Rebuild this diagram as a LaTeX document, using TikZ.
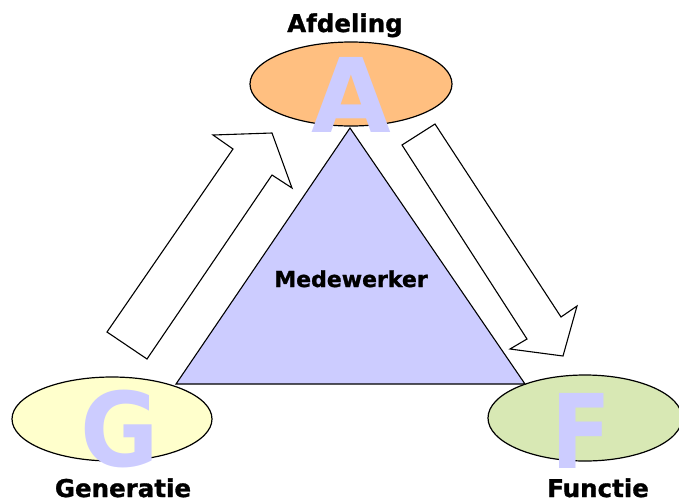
\documentclass[tikz,border=0pt]{standalone}
\usepackage{fontspec}
\setmainfont{DejaVu Sans}
\newfontfamily\heavyfont{DejaVu Sans Bold}[FakeBold=1.2]
\begin{document}
\begin{tikzpicture}[x=1pt,y=-1pt,
  oval/.style={draw=black, line width=1.2pt},
  bigletter/.style={text=lav, anchor=base, inner sep=0pt, text depth=0pt, font=\fontsize{103}{103}\selectfont\bfseries},
  label/.style={anchor=base, inner sep=0pt, text depth=0pt, font=\fontsize{24.5}{24.5}\selectfont\heavyfont},
  flowarrow/.style={draw=black, fill=white, line width=1.1pt, line join=miter}]
\definecolor{lav}{RGB}{204,204,255}
\definecolor{orangeA}{RGB}{255,191,128}
\definecolor{yellowG}{RGB}{255,255,204}
\definecolor{greenF}{RGB}{216,232,180}
\useasboundingbox (0,0) rectangle (679,501);

% the three ovals
\draw[oval, fill=orangeA] (351,84) ellipse [x radius=101, y radius=42];
\draw[oval, fill=yellowG] (112,419) ellipse [x radius=100, y radius=42];
\draw[oval, fill=greenF] (585,418) ellipse [x radius=97, y radius=43];

% central triangle
\coordinate (apex) at (350,128);
\coordinate (bl) at (176,384);
\coordinate (br) at (525,384);
\draw[fill=lav, line width=1.1pt] (apex) -- (bl) -- (br) -- cycle;
\node[label, font=\fontsize{22}{22}\selectfont\heavyfont] (mw) at (351,287) {Medewerker};

% block arrows
\draw[flowarrow] (107,332) -- (233,149) -- (213,135) -- (272,133) -- (292,188) -- (272,175) -- (147,359) -- cycle;
\draw[flowarrow] (402,145) -- (435,124) -- (561,317) -- (577,306) -- (563,356) -- (510,349) -- (527,339) -- cycle;

% initials
\node[bigletter] (A) at (351,132) {A};
\node[bigletter, xscale=0.93] (G) at (120,466) {G};
\node[bigletter, xscale=0.85] (F) at (581,468) {F};

% labels
\node[label] (la) at (345,32) {Afdeling};
\node[label] (lg) at (123,497) {Generatie};
\node[label] (lf) at (598,497) {Functie};
\end{tikzpicture}
\end{document}
